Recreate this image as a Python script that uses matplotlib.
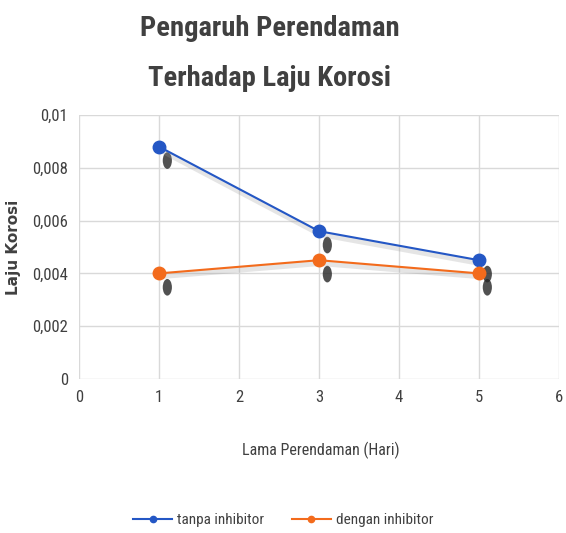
import matplotlib
matplotlib.use("Agg")
import matplotlib.pyplot as plt
import matplotlib.patheffects as pe
from matplotlib.path import Path
from matplotlib.transforms import Affine2D
from matplotlib.ticker import FuncFormatter
from matplotlib import font_manager

names = {f.name for f in font_manager.fontManager.ttflist}
fam = [n for n in ['Roboto Condensed', 'Open Sans Condensed', 'Lato'] if n in names]
plt.rcParams['font.family'] = fam + ['DejaVu Sans']

hari = [1, 3, 5]
tanpa = [0.0088, 0.0056, 0.0045]
dengan = [0.0040, 0.0045, 0.0040]

blue = '#2457c5'
orange = '#f36b1c'
txt = '#404040'

fig = plt.figure(figsize=(5.66, 5.33), dpi=100)
ax = fig.add_axes([79 / 566, 1 - 379 / 533, (559 - 79) / 566, (379 - 115) / 533])

# tall blurry shadow under each marker, faint shadow under each line
tall = Path.unit_circle().transformed(Affine2D().scale(0.55, 1.0))
shadow = [pe.SimplePatchShadow(offset=(6, -10), shadow_rgbFace='0.15', alpha=0.8)]
for ys in (tanpa, dengan):
    ax.plot(hari, ys, ls='none', marker=tall, ms=12, mfc='none', mec='none',
            path_effects=shadow, zorder=2)
    ax.plot(hari, ys, color='0.6', alpha=0.25, lw=4,
            transform=ax.transData + Affine2D().translate(1, -3), zorder=2)

ax.plot(hari, tanpa, color=blue, lw=1.5, marker='o', ms=9, label='tanpa inhibitor', zorder=3)
ax.plot(hari, dengan, color=orange, lw=1.5, marker='o', ms=9, label='dengan inhibitor', zorder=3)

ax.set_xlim(0, 6)
ax.set_ylim(0, 0.01)
ax.set_xticks(range(0, 7))
ax.set_yticks([0, 0.002, 0.004, 0.006, 0.008, 0.01])
ax.yaxis.set_major_formatter(FuncFormatter(lambda v, p: '0' if v == 0 else ('%g' % v).replace('.', ',')))
ax.grid(True, color='#d9d9d9', lw=1)
ax.set_axisbelow(True)
for s in ax.spines.values():
    s.set_visible(False)
ax.tick_params(length=0, labelsize=12, colors=txt, pad=8)

fig.text(0.477, 1 - 28 / 533, 'Pengaruh Perendaman', ha='center', va='center',
         fontsize=20.5, fontweight='bold', color=txt)
fig.text(0.477, 1 - 78 / 533, 'Terhadap Laju Korosi', ha='center', va='center',
         fontsize=20.5, fontweight='bold', color=txt)
fig.text(14 / 566, 1 - 247 / 533, 'Laju Korosi', rotation=90, ha='center', va='center',
         fontsize=11, fontweight='bold', color=txt, family='DejaVu Sans')
fig.text(321 / 566, 1 - 450 / 533, 'Lama Perendaman (Hari)', ha='center', va='center',
         fontsize=11.5, color=txt)

fig.legend(loc='center', bbox_to_anchor=(0.5, 1 - 520 / 533), ncol=2, frameon=False,
           fontsize=11, handlelength=2.6, markerscale=0.5, columnspacing=1.8,
           handletextpad=0.3, labelcolor=txt)

fig.savefig('out.png', dpi=100)
